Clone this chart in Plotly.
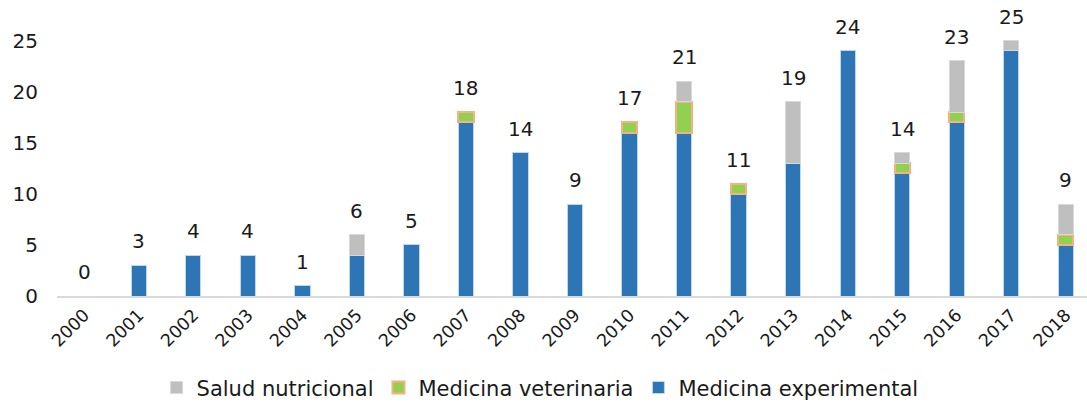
import plotly.graph_objects as go

# Datos por año
years = [str(y) for y in range(2000, 2019)]
experimental = [0, 3, 4, 4, 1, 4, 5, 17, 14, 9, 16, 16, 10, 13, 24, 12, 17, 24, 5]
veterinaria = [0, 0, 0, 0, 0, 0, 0, 1, 0, 0, 1, 3, 1, 0, 0, 1, 1, 0, 1]
nutricional = [0, 0, 0, 0, 0, 2, 0, 0, 0, 0, 0, 2, 0, 6, 0, 1, 5, 1, 3]
totals = [e + v + n for e, v, n in zip(experimental, veterinaria, nutricional)]

FONT = "DejaVu Sans"


def no_zero(vals):
    # los ceros no se dibujan (evita el borde de barras vacías)
    return [v if v else None for v in vals]


fig = go.Figure()
fig.add_trace(go.Bar(x=years, y=no_zero(experimental), name="Medicina experimental",
                     marker=dict(color="#2E75B6", line=dict(color="#BDD7EE", width=1))))
fig.add_trace(go.Bar(x=years, y=no_zero(veterinaria), name="Medicina veterinaria",
                     marker=dict(color="#92D050", line=dict(color="#F4B183", width=2))))
fig.add_trace(go.Bar(x=years, y=no_zero(nutricional), name="Salud nutricional",
                     marker=dict(color="#BFBFBF", line=dict(color="#D9D9D9", width=1))))

# etiquetas de total encima de cada barra (x por índice de categoría)
for i, t in enumerate(totals):
    fig.add_annotation(x=i, y=t, xref="x", yref="y", text=str(t), showarrow=False,
                       yanchor="bottom", yshift=10,
                       font=dict(family=FONT, size=20, color="#1a1a1a"))

fig.update_layout(
    barmode="stack",
    bargap=0.72,
    width=1087, height=402,
    margin=dict(l=57, r=0, t=15, b=106, autoexpand=False),
    plot_bgcolor="white", paper_bgcolor="white",
    font=dict(family=FONT, size=18, color="#1a1a1a"),
    legend=dict(orientation="h", traceorder="reversed", x=0.469, xanchor="center",
                y=-0.327, yanchor="middle", font=dict(size=21),
                itemwidth=30, tracegroupgap=0),
    showlegend=True,
)
fig.update_xaxes(type="category", range=[-0.5, 18.39], showline=True, linecolor="#D9D9D9",
                 linewidth=2, tickangle=-45, tickfont=dict(size=17.5), ticks="",
                 showgrid=False, automargin=False)
fig.update_yaxes(range=[0, 27.5], tickvals=[0, 5, 10, 15, 20, 25], showgrid=False,
                 zeroline=False, ticks="", ticklabelstandoff=18, tickfont=dict(size=20),
                 automargin=False)

# sin margen del body para que el gráfico quede en (0, 0)
fig.write_html("out.html", config={"displayModeBar": False},
               post_script="document.body.style.margin='0';")
